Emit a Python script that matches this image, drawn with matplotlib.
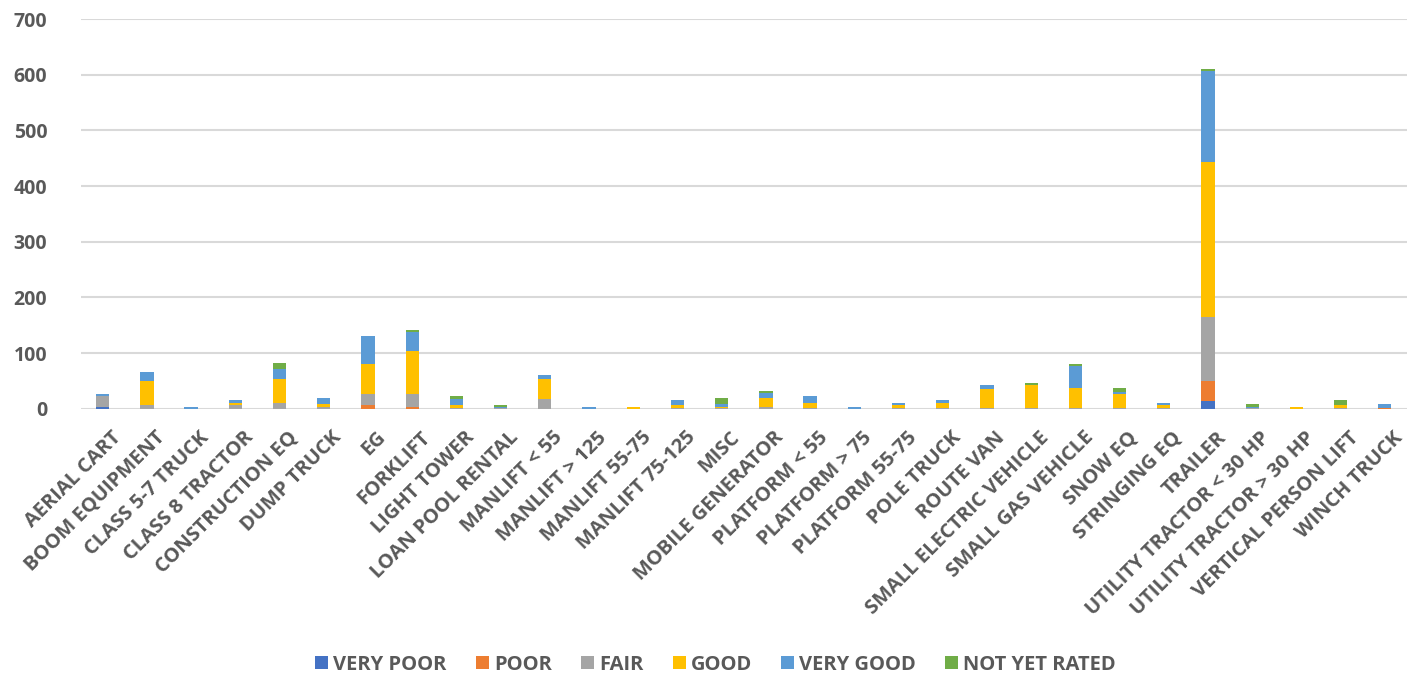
import numpy as np
import matplotlib.pyplot as plt
from matplotlib.transforms import ScaledTranslation

categories = ["AERIAL CART", "BOOM EQUIPMENT", "CLASS 5-7 TRUCK", "CLASS 8 TRACTOR",
              "CONSTRUCTION EQ", "DUMP TRUCK", "EG", "FORKLIFT", "LIGHT TOWER",
              "LOAN POOL RENTAL", "MANLIFT < 55", "MANLIFT > 125", "MANLIFT 55-75",
              "MANLIFT 75-125", "MISC", "MOBILE GENERATOR", "PLATFORM < 55",
              "PLATFORM > 75", "PLATFORM 55-75", "POLE TRUCK", "ROUTE VAN",
              "SMALL ELECTRIC VEHICLE", "SMALL GAS VEHICLE", "SNOW EQ", "STRINGING EQ",
              "TRAILER", "UTILITY TRACTOR < 30 HP", "UTILITY TRACTOR > 30 HP",
              "VERTICAL PERSON LIFT", "WINCH TRUCK"]

very_poor = [3, 0, 0, 0, 0, 0, 0, 0, 0, 0, 0, 0, 0, 0, 0, 0, 0, 0, 0, 0, 0, 0, 0, 0, 0, 14, 0, 0, 0, 0]
poor = [1, 0, 0, 0, 0, 0, 7, 3, 0, 0, 0, 0, 0, 0, 0, 0, 0, 0, 0, 0, 0, 0, 0, 0, 0, 35, 0, 0, 0, 2]
fair = [19, 7, 0, 7, 11, 4, 20, 24, 1, 1, 18, 0, 0, 2, 1, 3, 1, 0, 1, 2, 2, 2, 2, 2, 2, 115, 1, 0, 1, 0]
good = [0, 42, 0, 4, 42, 4, 54, 77, 6, 0, 35, 0, 3, 4, 3, 16, 10, 0, 5, 9, 33, 40, 36, 25, 4, 279, 0, 3, 6, 0]
very_good = [3, 17, 3, 4, 19, 11, 49, 34, 11, 2, 8, 3, 0, 9, 4, 9, 12, 3, 5, 4, 7, 1, 38, 3, 4, 164, 2, 0, 0, 6]
not_rated = [0, 0, 0, 0, 11, 0, 0, 4, 5, 4, 0, 0, 0, 0, 12, 3, 0, 0, 0, 0, 0, 4, 4, 8, 0, 4, 5, 0, 9, 0]

series = ["VERY POOR", "POOR", "FAIR", "GOOD", "VERY GOOD", "NOT YET RATED"]
colors = ["#4472C4", "#ED7D31", "#A5A5A5", "#FFC000", "#5B9BD5", "#70AD47"]
values = [very_poor, poor, fair, good, very_good, not_rated]

fnt = ["Open Sans", "DejaVu Sans"]
grey = "#595959"

fig = plt.figure(figsize=(14.14, 6.79), dpi=100)
ax = fig.add_axes([0.057, 0.398, 0.938, 0.574])

x = np.arange(len(categories))
bottom = np.zeros(len(categories))
for name, col, vals in zip(series, colors, values):
    ax.bar(x, vals, 0.3, bottom=bottom, color=col, label=name,
           linewidth=0, zorder=3)
    bottom += np.array(vals)

ax.set_ylim(0, 700)
ax.set_xlim(-0.5, len(categories) - 0.5)
ax.set_yticks(range(0, 701, 100))
ax.yaxis.grid(True, color="#D9D9D9", linewidth=1.5, zorder=0)
for s in ax.spines.values():
    s.set_visible(False)
ax.tick_params(length=0, colors=grey)
ax.tick_params(axis="y", pad=24)

ax.set_yticklabels([str(v) for v in range(0, 701, 100)], fontsize=14,
                   fontweight="bold", color=grey, family=fnt)
ax.set_xticks(x)
ax.set_xticklabels(categories, rotation=45, ha="right", rotation_mode="anchor",
                   fontsize=14.5, fontweight="bold", color=grey, family=fnt)
shift = ScaledTranslation(0.08, -0.14, fig.dpi_scale_trans)
for lbl in ax.get_xticklabels():
    lbl.set_transform(lbl.get_transform() + shift)

leg = fig.legend(loc="center", bbox_to_anchor=(0.506, 0.021), ncol=6, frameon=False,
                 handlelength=0.65, handleheight=0.65, handletextpad=0.25, columnspacing=1.45,
                 prop={"family": fnt, "weight": "bold", "size": 14.5})
for t in leg.get_texts():
    t.set_color(grey)

fig.savefig("out.png", dpi=100)
